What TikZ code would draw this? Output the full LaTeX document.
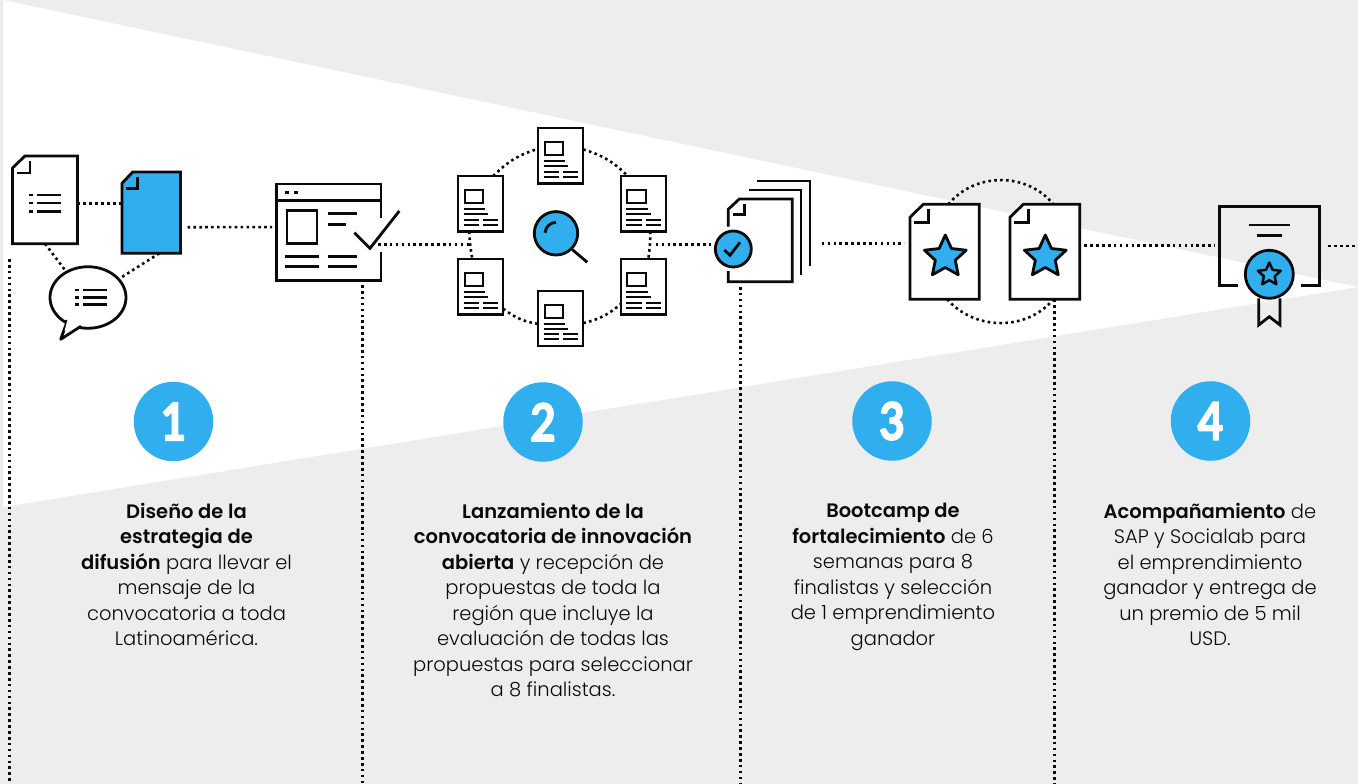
\documentclass[tikz,border=0pt]{standalone}
\usepackage{fontspec}
\setmainfont{Poppins}[UprightFont=* Light,BoldFont=* SemiBold]
\newfontfamily\numfont{Lato}[BoldFeatures={FakeBold=3}]
\usetikzlibrary{shapes.geometric,calc}
\definecolor{bgray}{HTML}{EDEDED}
\definecolor{sky}{HTML}{30AEEE}
\definecolor{ink}{HTML}{0A0A0A}
\tikzset{
 ln/.style={draw=ink,line width=2.8pt,line join=miter},
 thin ln/.style={draw=ink,line width=2.1pt},
 dotline/.style={draw=ink,line width=2.6pt,dash pattern=on 2.6pt off 3.3pt},
 ghost/.style={inner sep=0pt,outer sep=0pt,rectangle},
 numdisc/.style={circle,fill=sky,minimum size=79.5pt,inner sep=0pt,text=white,font=\numfont\fontsize{52}{52}\selectfont\bfseries},
 caption/.style={align=center,anchor=north,inner sep=0pt,text=ink,font=\fontsize{19.5}{25.5}\selectfont},
 starmark/.style={star,star points=5,star point ratio=2.1,draw=ink,fill=sky,line join=round,inner sep=0pt},
}
\newcommand{\foldpage}[8]{%
 \node[ghost,minimum width=#4pt-#2pt,minimum height=#5pt-#3pt] (#1) at ({(#2+#4)/2},{(#3+#5)/2}) {};
 \draw[ln,fill=#8] ({#2+#6},#3) -- (#4,#3) -- (#4,#5) -- (#2,#5) -- (#2,{#3+#7}) -- cycle;
 \draw[ln] ({#2+4},{#3+#7+5}) -- ({#2+#6+5},{#3+#7+5}) -- ({#2+#6+5},{#3+5});
}
\newcommand{\formpage}[3]{%
 \begin{scope}[shift={(#2,#3)}]
 \node[ghost,draw=ink,line width=2.3pt,fill=white,minimum width=45pt,minimum height=55.5pt] (#1) at (22.5,27.75) {};
 \draw[thin ln] (6.3,14) rectangle (25,27.3);
 \draw[thin ln] (5.3,33.3) -- (26.7,33.3) (5.3,38) -- (29.7,38)
   (5.3,43.7) -- (20.7,43.7) (25,43.7) -- (40,43.7)
   (5.3,48.7) -- (20.7,48.7) (25,48.7) -- (40,48.7);
 \end{scope}
}
\newcommand{\bullets}[3]{%
 \foreach \k in {0,1,2}{
  \draw[draw=ink,line width=2.6pt] (#1,{#2+\k*#3}) -- ({#1+3.6},{#2+\k*#3});
  \draw[draw=ink,line width=2.6pt] ({#1+8},{#2+\k*#3}) -- ({#1+32},{#2+\k*#3});
 }
}
\begin{document}
\begin{tikzpicture}[x=1pt,y=-1pt]
\useasboundingbox (0,0) rectangle (1358,784);
\fill[bgray] (0,0) rectangle (1358,784);
\fill[white] (3,0) -- (1358,287) -- (3,507) -- cycle;

\coordinate (v1) at (9.6,259); \coordinate (v1e) at (9.6,784);
\coordinate (v2e) at (362.5,784);
\coordinate (v3e) at (740.5,784);
\coordinate (v4e) at (1054.5,784);
\coordinate (outR) at (1358,246);
\coordinate (ringW) at (469.3,244.7);
\coordinate (ringE) at (655.7,244.7);
\coordinate (chkW) at (711.3,244.7);
\coordinate (midS) at (821.7,243.3);
\coordinate (midE) at (904.3,243.3);

% ---- icon group 1
\foldpage{docA}{12.5}{156}{77.5}{243.7}{12.4}{12}{white}
\bullets{29.3}{195}{8.1}
\foldpage{docB}{122}{172}{180.5}{253.3}{10.7}{11.3}{sky}
\node[ellipse,ln,fill=white,minimum width=76pt,minimum height=61.5pt,inner sep=0pt] (bubble) at (88,297.5) {};
\draw[ln,fill=white,line join=round] (66.7,320) -- (66.2,324) -- (60.7,339.3) -- (81,326.2);
\fill[white] (68,318) -- (64.5,331) -- (80,323) -- cycle;
\bullets{75.2}{290}{7.2}
% ---- form
\node[ghost,minimum width=104.3pt,minimum height=96.3pt] (form) at (328.85,232.15) {};
\draw[ln] (381,218) -- (381,184) -- (276.7,184) -- (276.7,280.3) -- (381,280.3) -- (381,251.7);
\draw[ln] (276.7,200.3) -- (381,200.3);
\draw[ln] (285,192.3) -- (289.3,192.3) (294,192.3) -- (298.3,192.3);
\draw[ln] (287,210.7) rectangle (317,243.3);
\draw[ln] (327.7,213.3) -- (356.7,213.3) (327.7,224.3) -- (346,224.3);
\draw[ln] (285,256.3) -- (319.3,256.3) (327.7,256.3) -- (356.7,256.3)
  (285,266.7) -- (319.3,266.7) (327.7,266.7) -- (356.7,266.7);
\draw[ln] (354.3,232.7) -- (370,248.3) -- (399.3,211);
% ---- ring of pages
\formpage{pT}{538.3}{128}
\formpage{pLu}{458.3}{176}
\formpage{pRu}{621}{176}
\formpage{pLd}{458.3}{259}
\formpage{pRd}{621}{259}
\formpage{pB}{538.3}{290.7}
\node[circle,ln,fill=sky,minimum size=43.4pt,inner sep=0pt] (lens) at (556,233.3) {};
\draw[ln] (lens.-45) -- (587.3,262.3);
\draw[ln] (545,232.7) .. controls (545.5,227) and (550,222.6) .. (556,222.3);
% ---- stacked pages
\node[ghost,minimum width=64pt,minimum height=82.7pt] (stack) at (760.3,240.3) {};
\draw[ln] (728.3,226.7) -- (728.3,209.3) -- (739.3,199) -- (792.3,199) -- (792.3,281.7) -- (728.3,281.7) -- (728.3,271);
\draw[ln] (733.3,214.7) -- (744.7,214.7) -- (744.7,204);
\draw[ln] (749,190) -- (801,190) -- (801,275);
\draw[ln] (757.3,181) -- (810,181) -- (810,266);
\node[circle,ln,fill=sky,minimum size=36pt,inner sep=0pt] (chk) at (733.3,249) {};
\draw[ln] (724.3,250) -- (730,255.3) -- (740,242.3);
% ---- star pages
\foldpage{sA}{910}{204.3}{979.3}{299.3}{13.3}{13}{white}
\foldpage{sB}{1010}{204.3}{1079.7}{299.3}{13.3}{13}{white}
\node[starmark,line width=2.8pt,minimum size=44pt] (stA) at (945.3,257) {};
\node[starmark,line width=2.8pt,minimum size=44pt] (stB) at (1045.3,257) {};
% ---- certificate
\node[ghost,minimum width=100pt,minimum height=79pt] (cert) at (1269.3,246.2) {};
\draw[ln] (1237.7,285.7) -- (1219.3,285.7) -- (1219.3,206.7) -- (1319.3,206.7) -- (1319.3,285.7) -- (1301,285.7);
\draw[ln] (1248.7,225) -- (1290,225) (1256.7,235.7) -- (1282.3,235.7);
\draw[ln] (1258.7,298.3) -- (1258.7,325) -- (1269.3,316.7) -- (1280,325) -- (1280,298.3);
\node[circle,ln,fill=sky,minimum size=48pt,inner sep=0pt] (medal) at (1269.3,274.3) {};
\node[starmark,line width=2.5pt,minimum size=24pt] (stC) at (1269.3,274.5) {};

% ---- connectors
\draw[dotline] ([yshift=-3.45pt]docA.east) -- ([yshift=9.35pt]docB.west);
\draw[dotline] (docA.south) -- (bubble.130);
\draw[dotline] ([xshift=8pt]docB.south) -- (bubble.31);
\draw[dotline,shorten <=7pt,shorten >=4.5pt] ([yshift=-14.6pt]docB.east) -- ([yshift=5.1pt]form.west);
\draw[dotline,shorten <=-3pt] (form.east |- ringW) -- (ringW);
\draw[dotline] ([xshift=12.5pt]pLu.north) to[bend left=14] ([yshift=7pt]pT.west);
\draw[dotline] ([yshift=6.3pt]pT.east) to[bend left=14] ([xshift=-15.8pt]pRu.north);
\draw[dotline] ([xshift=-11.5pt]pLu.south) to[bend right=4] ([xshift=-8.5pt]pLd.north);
\draw[dotline] ([xshift=6.8pt]pRu.south) to[bend left=4] ([xshift=4.8pt]pRd.north);
\draw[dotline] ([yshift=-22pt]pLd.east) to[bend right=14] ([yshift=-5.5pt]pB.west);
\draw[dotline] ([yshift=-4.6pt]pB.east) to[bend right=14] ([yshift=-17pt]pRd.west);
\draw[dotline] (ringE) -- (chkW);
\draw[dotline] (midS) -- (midE);
\draw[dotline] ([xshift=3.7pt]sA.north) .. controls (975,172) and (1027,172) .. ([xshift=8.5pt]sB.north);
\draw[dotline] ([xshift=2.6pt]sA.south) .. controls (975,331) and (1027,331) .. ([xshift=8.5pt]sB.south);
\draw[dotline,shorten <=4.6pt,shorten >=4.3pt] (sB.east |- 0,245.3) -- (cert.west |- 0,245.3);
\draw[dotline,shorten <=9pt] (cert.east |- outR) -- (outR);
\draw[dotline] (v1) -- (v1e);
\draw[dotline,shorten <=4.7pt] (form.south -| v2e) -- (v2e);
\draw[dotline,shorten <=5.3pt] (stack.south -| v3e) -- (v3e);
\draw[dotline] (sB.south -| v4e) -- (v4e);

% ---- numbers
\node[numdisc] (n1) at (173.5,421.5) {\scalebox{.85}[1]{1}};
\node[numdisc] (n2) at (543,422) {\scalebox{.85}[1]{2}};
\node[numdisc] (n3) at (892,421) {\scalebox{.85}[1]{3}};
\node[numdisc] (n4) at (1210.5,421) {\scalebox{.85}[1]{4}};

% ---- captions
\node[caption] (t1) at (186.5,503) {\textbf{Diseño de la}\\\textbf{estrategia de}\\\textbf{difusión} para llevar el\\mensaje de la\\convocatoria a toda\\Latinoamérica.};
\node[caption] (t2) at (553,503) {\textbf{Lanzamiento de la}\\\textbf{convocatoria de innovación}\\\textbf{abierta} y recepción de\\propuestas de toda la\\región que incluye la\\evaluación de todas las\\propuestas para seleccionar\\a 8 finalistas.};
\node[caption] (t3) at (893,503) {\textbf{Bootcamp de}\\\textbf{fortalecimiento} de 6\\semanas para 8\\finalistas y selección\\de 1 emprendimiento\\ganador};
\node[caption] (t4) at (1210,503) {\textbf{Acompañamiento} de\\SAP y Socialab para\\el emprendimiento\\ganador y entrega de\\un premio de 5 mil\\USD.};
\end{tikzpicture}
\end{document}
